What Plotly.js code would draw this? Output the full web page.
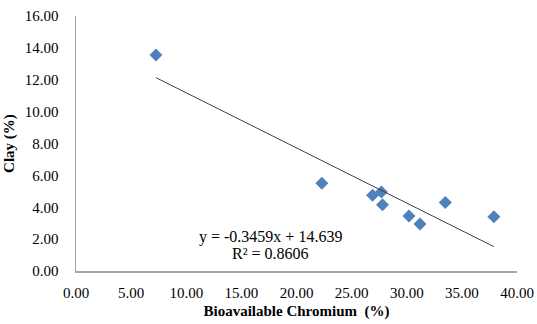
<!DOCTYPE html>
<html>
<head>
<meta charset="utf-8">
<script src="https://cdn.plot.ly/plotly-3.0.1.min.js"></script>
<style>html,body{margin:0;padding:0;background:#fff;}#chart{width:537px;height:324px;}</style>
</head>
<body>
<div id="chart"></div>
<script>
var chromium = [7.25, 22.3, 26.9, 27.7, 27.8, 30.2, 31.2, 33.5, 37.9];
var clay = [13.55, 5.5, 4.75, 4.95, 4.15, 3.45, 2.95, 4.3, 3.4];
var slope = -0.3459;
var intercept = 14.639;
var eqText = "y = -0.3459x + 14.639";
var r2Text = "R² = 0.8606";
var xTicks = [0, 5, 10, 15, 20, 25, 30, 35, 40];
var yTicks = [0, 2, 4, 6, 8, 10, 12, 14, 16];

var xMin = Math.min.apply(null, chromium), xMax = Math.max.apply(null, chromium);
var trendX = [xMin, xMax];
var trendY = trendX.map(function (v) { return slope * v + intercept; });

var font = "Liberation Serif, Times New Roman, serif";
var data = [
  {x: chromium, y: clay, mode: "markers", type: "scatter",
   marker: {symbol: "diamond", size: 10, color: "#4F81BD", line: {width: 0}}},
  {x: trendX, y: trendY, mode: "lines", type: "scatter",
   line: {color: "#404040", width: 1}}
];
var layout = {
  width: 537, height: 324,
  margin: {l: 76, r: 20, t: 16, b: 53},
  showlegend: false,
  paper_bgcolor: "#fff", plot_bgcolor: "#fff",
  font: {family: font, size: 15, color: "#000"},
  xaxis: {range: [0, 40], tickvals: xTicks, ticktext: xTicks.map(function (v) { return v.toFixed(2); }),
    showgrid: false, zeroline: false, showline: true, linecolor: "#A6A6A6", linewidth: 1.5,
    ticks: "outside", ticklen: 7, tickcolor: "rgba(0,0,0,0)",
    title: {text: "<b>Bioavailable Chromium  (%)</b>", font: {family: font, size: 15}, standoff: 6}},
  yaxis: {range: [0, 16], tickvals: yTicks, ticktext: yTicks.map(function (v) { return v.toFixed(2); }),
    showgrid: false, zeroline: false, showline: true, linecolor: "#A6A6A6", linewidth: 1.5,
    ticks: "outside", ticklen: 13, tickcolor: "rgba(0,0,0,0)",
    title: {text: "<b>Clay (%)</b>", font: {family: font, size: 15}, standoff: 6}},
  annotations: [
    {x: 0.44, y: 0.133, xref: "paper", yref: "paper", text: eqText,
     showarrow: false, xanchor: "center", yanchor: "middle", font: {family: font, size: 16, color: "#000"}},
    {x: 0.44, y: 0.070, xref: "paper", yref: "paper", text: r2Text,
     showarrow: false, xanchor: "center", yanchor: "middle", font: {family: font, size: 16, color: "#000"}}
  ]
};
Plotly.newPlot("chart", data, layout, {displayModeBar: false, staticPlot: true});
</script>
</body>
</html>
